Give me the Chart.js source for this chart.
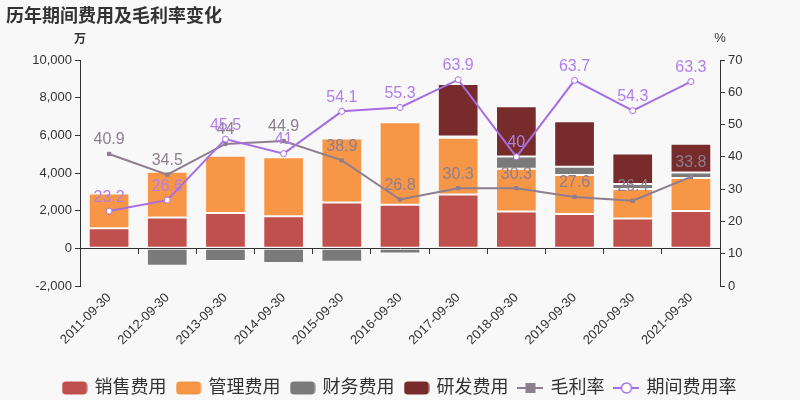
<!DOCTYPE html>
<html>
<head>
<meta charset="utf-8">
<script src="https://cdn.jsdelivr.net/npm/chart.js@4/dist/chart.umd.min.js"></script>
<style>
  html, body { margin: 0; padding: 0; background: #f8f8f8; }
  #wrap { width: 800px; height: 400px; position: relative; }
</style>
</head>
<body>
<div id="wrap"><canvas id="grafico" width="800" height="400"></canvas></div>
<script>
// dados (万 / %)
const categorias = ['2011-09-30', '2012-09-30', '2013-09-30', '2014-09-30', '2015-09-30', '2016-09-30',
  '2017-09-30', '2018-09-30', '2019-09-30', '2020-09-30', '2021-09-30'];
const vendas = [1060, 1640, 1870, 1710, 2430, 2320, 2860, 1960, 1820, 1590, 1980];
const gestao = [1850, 2420, 3050, 3120, 3400, 4370, 3010, 2260, 2080, 1560, 1760];
const financeiro = [0, -925, -670, -780, -710, -280, 70, 650, 430, 260, 280];
const pesquisa = [0, 0, 0, 0, 0, 0, 2780, 2680, 2420, 1620, 1530];
const margemBruta = [40.9, 34.5, 44, 44.9, 38.9, 26.8, 30.3, 30.3, 27.6, 26.4, 33.8];
const taxaDespesas = [23.2, 26.6, 45.5, 41, 54.1, 55.3, 63.9, 40, 63.7, 54.3, 63.3];
const ticksEsquerda = [-2000, 10000, 2000];
const ticksDireita = [0, 70, 10];

const fonte = '"Liberation Sans", Arial, "Noto Sans CJK SC", sans-serif';
const corMargem = '#8e7e8f';
const corTaxa = '#a66ee2';

// ícones da legenda
function icone(tipo, cor) {
  const c = document.createElement('canvas');
  c.width = 26; c.height = 14;
  const g = c.getContext('2d');
  if (tipo === 'barra') {
    g.fillStyle = cor;
    g.beginPath();
    g.roundRect(0.5, 0.5, 25, 13, 4);
    g.fill();
  } else {
    g.strokeStyle = cor; g.lineWidth = 2;
    g.beginPath(); g.moveTo(0, 7); g.lineTo(26, 7); g.stroke();
    if (tipo === 'quadrado') {
      g.fillStyle = cor;
      g.fillRect(8, 2, 10, 10);
    } else {
      g.fillStyle = '#fff'; g.lineWidth = 1.5;
      g.beginPath(); g.arc(13, 7, 5, 0, Math.PI * 2); g.fill(); g.stroke();
    }
  }
  return c;
}

// rótulos das linhas + títulos
const extras = {
  id: 'extras',
  afterDatasetsDraw(chart) {
    const ctx = chart.ctx;
    ctx.save();
    ctx.font = '16px ' + fonte;
    ctx.textAlign = 'center';
    ctx.textBaseline = 'bottom';
    [4, 5].forEach(i => {
      const ds = chart.data.datasets[i];
      const meta = chart.getDatasetMeta(i);
      ctx.fillStyle = i === 4 ? corMargem : '#b27fea';
      meta.data.forEach((p, j) => {
        ctx.fillText(String(ds.data[j]), p.x, p.y - 6);
      });
    });
    ctx.restore();
  },
  afterDraw(chart) {
    const ctx = chart.ctx;
    const a = chart.chartArea;
    ctx.save();
    ctx.fillStyle = '#333';
    ctx.textBaseline = 'middle';
    ctx.font = 'bold 18px "Noto Sans CJK SC", sans-serif';
    ctx.textAlign = 'left';
    ctx.fillText('历年期间费用及毛利率变化', 6, 15);
    ctx.font = 'bold 12px "Noto Sans CJK SC", sans-serif';
    ctx.textAlign = 'center';
    ctx.fillText('万', a.left, a.top - 22);
    ctx.font = '13px ' + fonte;
    ctx.fillText('%', a.right, a.top - 22);
    ctx.restore();
  }
};

const barra = (label, dados, cor) => ({
  type: 'bar', label, data: dados, backgroundColor: cor,
  borderColor: 'rgba(255,255,255,0.35)', borderWidth: 1, borderSkipped: false,
  stack: 'a', yAxisID: 'y', xAxisID: 'x', order: 2,
  pointStyle: icone('barra', cor)
});

new Chart(document.getElementById('grafico'), {
  data: {
    labels: categorias,
    datasets: [
      barra('销售费用', vendas, '#c0504d'),
      barra('管理费用', gestao, '#f79646'),
      barra('财务费用', financeiro, '#7a7a7a'),
      barra('研发费用', pesquisa, '#772b2a'),
      {
        type: 'line', label: '毛利率', data: margemBruta, yAxisID: 'y1', xAxisID: 'x', order: 1,
        borderColor: corMargem, backgroundColor: corMargem, borderWidth: 2,
        pointStyle: 'rect', pointRadius: 3, pointBackgroundColor: corMargem, pointBorderWidth: 0
      },
      {
        type: 'line', label: '期间费用率', data: taxaDespesas, yAxisID: 'y1', xAxisID: 'x', order: 0,
        borderColor: corTaxa, backgroundColor: '#fff', borderWidth: 2,
        pointStyle: 'circle', pointRadius: 3, pointBackgroundColor: '#fff', pointBorderColor: corTaxa, pointBorderWidth: 1
      }
    ]
  },
  options: {
    responsive: false,
    animation: false,
    datasets: { bar: { categoryPercentage: 1, barPercentage: 0.7 } },
    layout: { padding: { top: 60, left: 0, right: 0, bottom: -7 } },
    plugins: {
      legend: {
        position: 'bottom',
        labels: {
          usePointStyle: true,
          pointStyleWidth: 22,
          boxHeight: 14,
          padding: 11,
          color: '#333',
          font: { size: 18, family: fonte },
          generateLabels(chart) {
            return chart.data.datasets.map((ds, i) => ({
              text: ds.label,
              pointStyle: i === 4 ? icone('quadrado', corMargem) : i === 5 ? icone('circulo', corTaxa) : ds.pointStyle,
              fillStyle: 'transparent', strokeStyle: 'transparent', lineWidth: 0,
              fontColor: '#333', datasetIndex: i, hidden: false
            }));
          }
        }
      },
      tooltip: { enabled: false }
    },
    scales: {
      x: {
        type: 'category', position: 'bottom', stacked: true, offset: true,
        grid: { display: false, drawTicks: false },
        border: { display: false },
        ticks: { color: '#333', font: { size: 13, family: fonte }, minRotation: 45, maxRotation: 45, padding: 4, autoSkip: false },
        afterFit(s) { s.height = 82; }
      },
      xZero: {
        type: 'category', labels: categorias, position: { y: 0 }, offset: true,
        grid: { offset: true, drawOnChartArea: false, drawTicks: true, tickLength: 5, color: '#333' },
        border: { display: true, color: '#333', width: 1 },
        ticks: { display: false }
      },
      y: {
        position: 'left', stacked: true, min: ticksEsquerda[0], max: ticksEsquerda[1],
        grid: { drawOnChartArea: false, tickLength: 5, color: '#333' },
        border: { display: true, color: '#333' },
        ticks: { stepSize: ticksEsquerda[2], color: '#333', padding: 3, font: { size: 13, family: fonte },
          callback: v => v.toLocaleString('en-US') },
        afterFit(s) { s.width = 80; }
      },
      y1: {
        position: 'right', min: ticksDireita[0], max: ticksDireita[1],
        grid: { drawOnChartArea: false, tickLength: 5, color: '#333' },
        border: { display: true, color: '#333' },
        ticks: { stepSize: ticksDireita[2], color: '#333', padding: 3, font: { size: 13, family: fonte } },
        afterFit(s) { s.width = 80; }
      }
    }
  },
  plugins: [extras]
});
</script>
</body>
</html>
